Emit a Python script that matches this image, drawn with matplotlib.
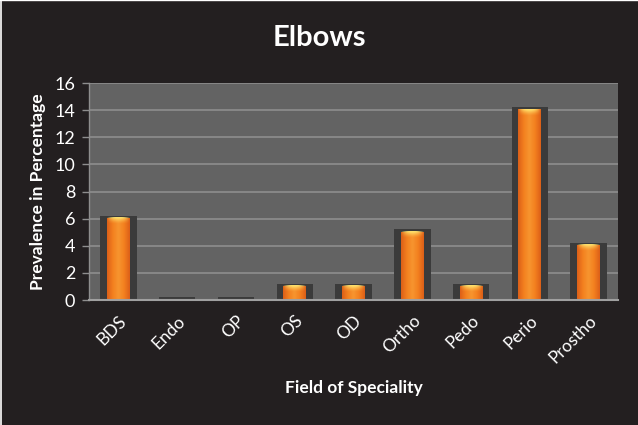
import numpy as np
import matplotlib.pyplot as plt
from matplotlib.patches import Rectangle
from matplotlib.colors import LinearSegmentedColormap

categories = ["BDS", "Endo", "OP", "OS", "OD", "Ortho", "Pedo", "Perio", "Prostho"]
values = [6, 0, 0, 1, 1, 5, 1, 14, 4]
y_ticks = [0, 2, 4, 6, 8, 10, 12, 14, 16]

plt.rcParams['font.family'] = ['Lato', 'DejaVu Sans']

FIG_BG = "#231f20"
PLOT_BG = "#636363"
GRID = "#8e8e8e"
SHADOW = "#3b3b3b"

fig = plt.figure(figsize=(6.38, 4.25), dpi=100, facecolor=FIG_BG)
ax = fig.add_axes([0.1395, 0.2941, 0.8292, 0.5106], facecolor=PLOT_BG)

x = np.arange(len(categories))

# orange body: dark edges, bright centre, pale glow near the top
body_cmap = LinearSegmentedColormap.from_list(
    "body", ["#dc5f18", "#f3801f", "#f7952f", "#f3801f", "#dc5f18"])
h = np.linspace(0, 1, 64)
body = body_cmap(h)[None, :, :]

shadow_w = 0.62
bar_w = 0.39
for xi, v in zip(x, values):
    ax.add_patch(Rectangle((xi - shadow_w / 2, 0), shadow_w, v + 0.2,
                           facecolor=SHADOW, edgecolor="none", zorder=2))
    if v <= 0:
        continue
    top = v + 0.05
    img = ax.imshow(np.repeat(body, 2, axis=0), extent=(xi - bar_w / 2, xi + bar_w / 2, 0, top),
                    aspect="auto", zorder=3, interpolation="bilinear")
    clip = Rectangle((xi - bar_w / 2, 0), bar_w, top, transform=ax.transData)
    img.set_clip_path(clip)
    # top highlight
    glow_h = min(0.45, top * 0.45)
    yy = np.linspace(0, 1, 32)[:, None]
    xx = np.linspace(-1, 1, 64)[None, :]
    alpha = np.clip((yy ** 1.5) * (1 - xx ** 2) * 1.2, 0, 1)
    glow = np.zeros((32, 64, 4))
    glow[..., 0] = 1.0
    glow[..., 1] = 0.88
    glow[..., 2] = 0.42
    glow[..., 3] = alpha
    ax.imshow(glow, extent=(xi - bar_w / 2, xi + bar_w / 2, top - glow_h, top),
              aspect="auto", zorder=4, origin="lower", interpolation="bilinear")

ax.set_xlim(-0.5, len(categories) - 0.5)
ax.set_ylim(0, 16)

ax.set_yticks(y_ticks)
ax.yaxis.grid(True, color=GRID, linewidth=1.2, zorder=1)
ax.set_axisbelow(True)
for s in ["top", "right"]:
    ax.spines[s].set_visible(False)
ax.spines["left"].set_color("#8e8e8e")
ax.spines["bottom"].set_color("#a0a0a0")
ax.spines["bottom"].set_linewidth(1.5)
ax.spines["left"].set_linewidth(1.0)
ax.spines["bottom"].set_zorder(5)

ax.tick_params(axis="y", colors="#8e8e8e", labelcolor="white", labelsize=13,
               length=5, width=1, direction="out", pad=5)
ax.tick_params(axis="x", length=0, labelcolor="white", labelsize=12.5, pad=9)
ax.set_xticks(x)
ax.set_xticklabels(categories, rotation=45, ha="right", rotation_mode="anchor")

ax.set_ylabel("Prevalence in Percentage", color="white", fontsize=12.5,
              fontweight="bold", labelpad=6)
ax.set_xlabel("Field of Speciality", color="white", fontsize=12.5,
              fontweight="bold", labelpad=10)
fig.text(0.5, 0.91, "Elbows", color="white", fontsize=21, fontweight="bold",
         ha="center", va="center")

# thin light frame along the top and left edges
fig.add_artist(plt.Line2D([0.0015, 0.0015], [0, 1], color="white", linewidth=1.2,
                          transform=fig.transFigure))
fig.add_artist(plt.Line2D([0, 1], [0.999, 0.999], color="white", linewidth=1.0,
                          transform=fig.transFigure))

fig.savefig("out.png", dpi=100, facecolor=FIG_BG)
